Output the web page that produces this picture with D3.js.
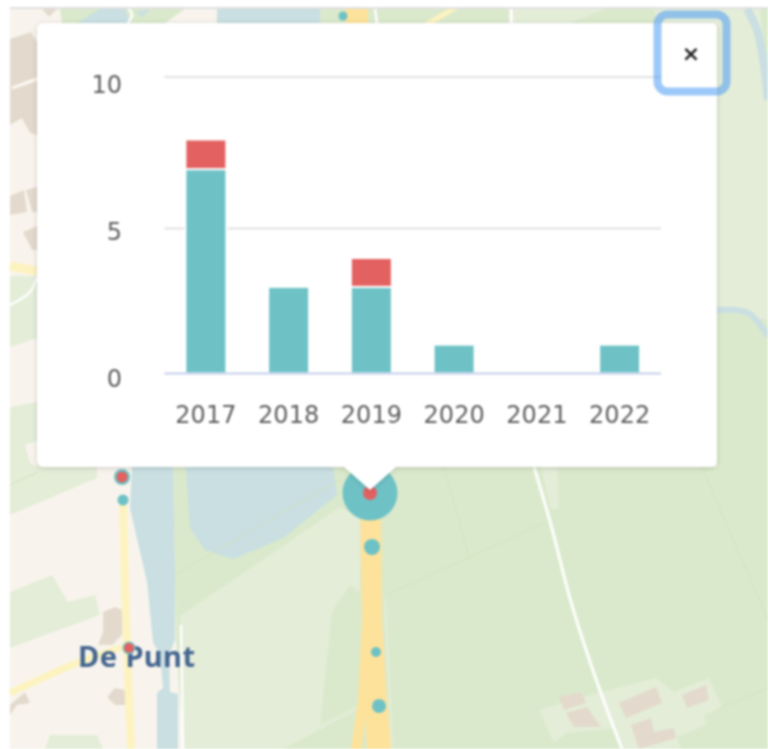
<!DOCTYPE html>
<html>
<head>
<meta charset="utf-8">
<title>Bar chart popup on map</title>
<style>
    html, body { margin: 0; padding: 0; background: #fff; }
    svg { display: block; filter: blur(0.9px); }
    .tick text { font-family: "DejaVu Sans", sans-serif; font-size: 24px; fill: #5e5e5e; }
</style>
</head>
<body>
<svg width="768" height="749"></svg>

<script src="https://d3js.org/d3.v7.min.js"></script>
<script>
    // chart values
    const years = ["2017", "2018", "2019", "2020", "2021", "2022"];
    const tealValues = [7, 3, 3, 1, 0, 1];
    const redValues = [1, 0, 1, 0, 0, 0];
    const yTicks = [0, 5, 10];

    const teal = "#6ec2c6", red = "#e36161";
    const light = "#e4edd8", dark = "#dae9cb", water = "#c9dfe2", beige = "#f8f4ed",
        building = "#e3dacd", road = "#fde29b", minor = "#fdf3c0", field = "#cfe3bd";

    // background map, in page pixels
    const mapAreas = [
        [light, [[513, 9], [768, 9], [768, 320], [717, 310], [717, 23], [513, 23]]],
        [dark, [[570, 23], [605, 9], [655, 9], [655, 23]]],
        [dark, [[760, 9], [768, 9], [768, 75]]],
        [dark, [[380, 9], [510, 9], [510, 23], [380, 23]]],
        [dark, [[320, 9], [380, 9], [380, 23], [320, 23]]],
        [water, [[217, 9], [320, 9], [320, 23], [217, 23]]],
        [dark, [[60, 9], [185, 9], [165, 23], [62, 23]]],
        [water, [[77, 23], [100, 9], [125, 9], [130, 23]]],
        [water, [[135, 12], [150, 9], [143, 17]]],
        [building, [[42, 9], [57, 9], [49, 17]]],
        [minor, [[424, 23], [448, 9], [458, 9], [434, 23]]],
        [dark, [[173, 467], [717, 467], [717, 309], [768, 320], [768, 749], [183, 749], [176, 640]]],
        [light, [[180, 616], [340, 507], [360, 518], [360, 749], [183, 749]]],
        [dark, [[332, 612], [350, 585], [360, 592], [360, 705], [320, 725]]],
        [dark, [[283, 749], [360, 708], [360, 749]]],
        [light, [[541, 467], [557, 467], [559, 508], [551, 510]]],
        [water, [[132, 467], [173, 467], [175, 575], [175, 640], [169, 655], [170, 692], [178, 694], [178, 749], [157, 749], [157, 693], [163, 688], [160, 655], [153, 642], [147, 582], [130, 508]]],
        [water, [[186, 467], [333, 467], [337, 495], [283, 538], [233, 559], [205, 550], [190, 528]]],
        [light, [[539, 710], [591, 695], [656, 678], [674, 692], [709, 678], [722, 707], [704, 715], [706, 725], [677, 737], [681, 749], [624, 749], [614, 728], [567, 733], [554, 743]]],
        [light, [[10, 276], [37, 276], [37, 338], [10, 347]]],
        [light, [[10, 407], [37, 402], [97, 402], [97, 478], [10, 515]]],
        [beige, [[25, 445], [37, 441], [37, 467], [30, 463]]],
        [light, [[10, 592], [52, 575], [68, 602], [95, 595], [100, 615], [10, 648]]],
        [light, [[50, 735], [97, 735], [103, 749], [45, 749]]],
        [building, [[10, 39], [31, 32], [37, 42], [37, 135], [30, 133], [22, 118], [10, 125]]],
        [building, [[10, 196], [24, 190], [27, 212], [10, 215]]],
        [building, [[26, 190], [37, 187], [37, 212], [32, 212]]],
        [building, [[23, 232], [37, 226], [37, 250], [32, 250]]],
        [building, [[103, 612], [115, 607], [122, 610], [122, 635], [112, 645], [98, 645], [103, 632]]],
        [building, [[107, 697], [115, 688], [125, 690], [125, 705], [115, 705]]],
        [building, [[10, 705], [25, 692], [30, 703], [17, 705], [10, 715]]],
        [building, [[559, 697], [581, 692], [586, 703], [564, 710]]],
        [building, [[566, 713], [587, 707], [601, 727], [574, 727]]],
        [building, [[619, 703], [656, 687], [662, 703], [626, 718]]],
        [building, [[682, 695], [706, 685], [709, 700], [687, 708]]],
        [building, [[631, 725], [651, 718], [654, 732], [674, 728], [676, 738], [639, 749]]],
        [road, [[345, 9], [368, 9], [368, 23], [345, 23]]],
        [road, [[360, 510], [381, 510], [382, 620], [387, 700], [392, 749], [367, 749], [365, 717], [362, 749], [351, 749], [358, 700], [362, 620]]]
    ];

    // stroke colour, width, points
    const mapLines = [
        [water, 8, [[747, 9], [758, 33], [768, 100]]],
        [water, 6, [[717, 310], [735, 310], [750, 314], [768, 336]]],
        ["#fff", 2.5, [[129, 9], [132, 15], [128, 23]]],
        ["#fff", 2.5, [[375, 9], [377, 23]]],
        ["#fff", 3, [[511, 9], [511, 23]]],
        [minor, 9, [[10, 266], [37, 271]]],
        ["#fff", 2.5, [[37, 277], [30, 292], [10, 305]]],
        ["#fbf8f3", 3, [[12, 88], [37, 79]]],
        [field, 1, [[10, 485], [38, 472]]],
        [field, 1, [[174, 575], [340, 480]]],
        [field, 1, [[444, 467], [469, 557]]],
        [field, 1, [[387, 595], [544, 523]]],
        [field, 1, [[702, 467], [768, 620]]],
        [field, 1, [[720, 708], [768, 688]]],
        [light, 2, [[385, 600], [392, 749]]],
        [minor, 8, [[123, 502], [126, 620], [131, 749]]],
        [minor, 7, [[10, 693], [77, 663], [123, 647]]],
        ["#fff", 3, [[534, 467], [551, 525], [571, 602], [597, 682], [622, 749]]],
        ["#fff", 2.5, [[181, 625], [183, 749]]]
    ];

    // map markers: x, y, outer radius, inner red radius
    const mapMarkers = [
        [343, 16, 4.5, 0],
        [122, 477, 8, 5.5],
        [123, 500, 5.5, 0],
        [129, 648, 6.5, 5],
        [370, 493, 27.5, 7],
        [372, 547, 8, 0],
        [376, 652, 5, 0],
        [379, 706, 7, 0]
    ];

    const svg = d3.select("svg");
    svg.append("defs").append("filter")
        .attr("id", "shadow")
        .attr("x", "-5%").attr("y", "-5%").attr("width", "110%").attr("height", "110%")
        .append("feDropShadow")
        .attr("dx", 0).attr("dy", 1).attr("stdDeviation", 2.5)
        .attr("flood-color", "#000").attr("flood-opacity", 0.18);

    // top rule of the screenshot
    svg.append("rect").attr("x", 10).attr("y", 7).attr("width", 758).attr("height", 2).attr("fill", "#e0e0e0");

    const map = svg.append("g");
    map.append("rect").attr("x", 10).attr("y", 9).attr("width", 758).attr("height", 740).attr("fill", beige);

    const poly = d3.line().curve(d3.curveLinearClosed);
    const open = d3.line().curve(d3.curveCatmullRom);

    map.selectAll(".area").data(mapAreas).enter().append("path")
        .attr("class", "area")
        .attr("fill", d => d[0])
        .attr("d", d => poly(d[1]));

    map.selectAll(".way").data(mapLines).enter().append("path")
        .attr("class", "way")
        .attr("fill", "none")
        .attr("stroke", d => d[0])
        .attr("stroke-width", d => d[1])
        .attr("d", d => open(d[2]));

    map.append("text")
        .attr("x", 78)
        .attr("y", 667)
        .attr("textLength", 117)
        .style("font", "bold 29px 'Noto Sans', sans-serif")
        .style("fill", "#456690")
        .text("De Punt");

    map.selectAll(".outer").data(mapMarkers).enter().append("circle")
        .attr("class", "outer")
        .attr("cx", d => d[0]).attr("cy", d => d[1]).attr("r", d => d[2])
        .attr("fill", teal);
    map.selectAll(".inner").data(mapMarkers.filter(d => d[3] > 0)).enter().append("circle")
        .attr("class", "inner")
        .attr("cx", d => d[0]).attr("cy", d => d[1]).attr("r", d => d[3])
        .attr("fill", red);

    // popup box with its pointer
    const popup = svg.append("g").attr("filter", "url(#shadow)");
    popup.append("rect")
        .attr("x", 37).attr("y", 23).attr("width", 680).attr("height", 444).attr("rx", 6)
        .attr("fill", "#fff");
    popup.append("path")
        .attr("d", poly([[343, 466], [397, 466], [370, 490]]))
        .attr("fill", "#fff");

    // chart
    const left = 164.5, right = 661;

    const x = d3.scaleBand()
        .domain(years)
        .range([left, right])
        .paddingInner(0.505)
        .paddingOuter(0.2525);

    // the bars and gridlines in the picture are not quite evenly spaced, so the scale is piecewise
    const y = d3.scaleLinear()
        .domain([0, 4, 8, 10])
        .range([373.5, 258, 139.5, 77]);

    // the tick labels do not follow the gridlines exactly
    const yLabel = d3.scaleLinear()
        .domain([0, 10])
        .range([386.7, 92.7]);

    const rows = years.map((year, i) => ({ year, teal: tealValues[i], red: redValues[i] }));
    const stacked = d3.stack().keys(["teal", "red"])(rows);
    const colour = d3.scaleOrdinal().domain(["teal", "red"]).range([teal, red]);

    const chart = svg.append("g");

    const grid = chart.append("g")
        .attr("transform", `translate(${left},0)`)
        .call(d3.axisLeft(y).tickValues(yTicks.filter(d => d > 0)).tickSize(left - right).tickFormat("").offset(0));
    grid.select(".domain").remove();
    grid.selectAll("line").attr("stroke", "#e2e2e2").attr("stroke-width", 2);

    chart.selectAll(".layer")
        .data(stacked)
        .enter().append("g")
        .attr("class", "layer")
        .attr("fill", d => colour(d.key))
        .selectAll("rect")
        .data(d => d.filter(s => s[1] > s[0]))
        .enter().append("rect")
        .attr("x", d => x(d.data.year))
        .attr("y", d => y(d[1]))
        .attr("width", x.bandwidth())
        .attr("height", d => y(d[0]) - y(d[1]))
        .attr("stroke", "#fff")
        .attr("stroke-width", 2);

    chart.append("line")
        .attr("x1", left).attr("x2", right)
        .attr("y1", y(0)).attr("y2", y(0))
        .attr("stroke", "#c5d0ec")
        .attr("stroke-width", 2);

    const yAxis = chart.append("g")
        .attr("transform", "translate(122,0)")
        .call(d3.axisLeft(yLabel).tickValues(yTicks).tickSize(0).tickPadding(0).offset(0));
    yAxis.select(".domain").remove();
    yAxis.selectAll("text").attr("dy", 0);

    const xAxis = chart.append("g")
        .attr("transform", "translate(0,423)")
        .call(d3.axisBottom(x).tickSize(0).tickPadding(0).offset(0));
    xAxis.select(".domain").remove();
    xAxis.selectAll("text").attr("y", 0).attr("dy", 0);

    // close button with its focus ring
    svg.append("rect")
        .attr("x", 657.5).attr("y", 14.5).attr("width", 69).attr("height", 77).attr("rx", 10)
        .attr("fill", "none")
        .attr("stroke", "#4d9df6")
        .attr("stroke-opacity", 0.55)
        .attr("stroke-width", 8);
    svg.append("text")
        .attr("x", 691)
        .attr("y", 61)
        .attr("text-anchor", "middle")
        .style("font", "bold 22px 'DejaVu Sans', sans-serif")
        .style("fill", "#222")
        .text("×");
</script>
</body>
</html>
